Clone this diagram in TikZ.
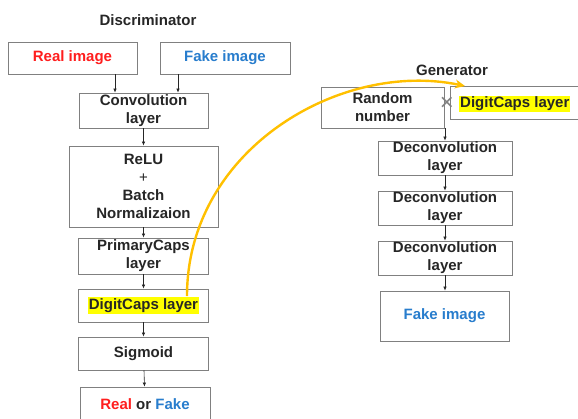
\documentclass[tikz,border=0pt]{standalone}
\usepackage{fontspec}
\setmainfont{Liberation Sans}
\usetikzlibrary{arrows.meta}
\definecolor{boxline}{RGB}{128,128,128}
\definecolor{txt}{RGB}{38,38,38}
\definecolor{redt}{RGB}{255,30,30}
\definecolor{bluet}{RGB}{40,125,205}
\definecolor{gold}{RGB}{255,192,0}
\definecolor{hlyellow}{RGB}{255,255,0}
\tikzset{
  box/.style={draw=boxline, line width=0.8pt, fill=white, inner sep=1pt,
    align=center, text=txt, font=\fontsize{15}{18}\selectfont\bfseries},
  ttl/.style={text=txt, font=\fontsize{15}{18}\selectfont\bfseries, inner sep=0pt},
  hl/.style={fill=hlyellow, inner sep=1pt, text=txt, font=\fontsize{15}{18}\selectfont\bfseries},
  arr/.style={draw=txt, line width=0.6pt, -{Latex[length=4pt,width=3.5pt]}},
  link/.style={draw=gold, line width=2.4pt, -{Stealth[length=10pt,width=9pt]}}
}
\begin{document}
\begin{tikzpicture}[x=1pt,y=-1pt]
\useasboundingbox (0,0) rectangle (578,418);
% Discriminator
\node[ttl] (tdis) at (148,20) {Discriminator};
\node[box, minimum width=129pt, minimum height=32pt] (real) at (72.5,58) {\textcolor{redt}{Real image}};
\node[box, minimum width=130pt, minimum height=32pt] (fake) at (225,58) {\textcolor{bluet}{Fake image}};
\node[box, minimum width=129pt, minimum height=35pt] (conv) at (143.5,110.5) {Convolution\\layer};
\node[box, minimum width=149pt, minimum height=81pt] (relu) at (143.5,186.5) {ReLU\\{\mdseries +}\\Batch\\Normalizaion};
\node[box, minimum width=130pt, minimum height=36pt] (prim) at (143.5,256) {PrimaryCaps\\layer};
\node[box, minimum width=130pt, minimum height=33pt] (dcl) at (143.5,305.5) {};
\node[hl] (hll) at (143.5,305.5) {DigitCaps layer};
\node[box, minimum width=130pt, minimum height=33pt] (sig) at (143.5,353.5) {Sigmoid};
\node[box, minimum width=130pt, minimum height=34pt] (rof) at (145,404) {\textcolor{redt}{Real} or \textcolor{bluet}{Fake}};
\draw[arr] (real.south -| 115,0) -- (conv.north -| 115,0);
\draw[arr] (fake.south -| 178,0) -- (conv.north -| 178,0);
\draw[arr] (conv) -- (relu);
\draw[arr] (relu) -- (prim);
\draw[arr] (prim) -- (dcl);
\draw[arr] (dcl) -- (sig);
\draw[arr] (sig) -- (rof);
% Generator
\node[ttl] (tgen) at (452,70) {Generator};
\node[box, minimum width=123pt, minimum height=41pt] (rn) at (382.5,107.5) {Random\\number};
\node[box, minimum width=135pt, minimum height=33pt] (dcr) at (517.5,102.5) {};
\node[hl, anchor=west] (hlr) at (459,104) {DigitCaps layer};
\node[text=boxline, inner sep=0pt, font=\fontsize{24}{24}\selectfont] (times) at (447,104) {×};
\node[box, minimum width=134pt, minimum height=34pt] (d1) at (445,158) {Deconvolution\\layer};
\node[box, minimum width=134pt, minimum height=32pt] (d2) at (445,208) {Deconvolution\\layer};
\node[box, minimum width=134pt, minimum height=32pt] (d3) at (445,258) {Deconvolution\\layer};
\node[box, minimum width=129pt, minimum height=50pt] (fi) at (444.5,316) {\textcolor{bluet}{Fake image}};
\draw[arr] (d1.north |- rn.south) -- (d1.north);
\draw[arr] (d1) -- (d2);
\draw[arr] (d2) -- (d3);
\draw[arr] (d3.south) -- (fi.north -| d3.south);
% link
\coordinate (cs) at (187,296);
\coordinate (ce) at (465,86);
\draw[link] (cs) .. controls (187,150) and (340,60) .. (ce);
\end{tikzpicture}
\end{document}
